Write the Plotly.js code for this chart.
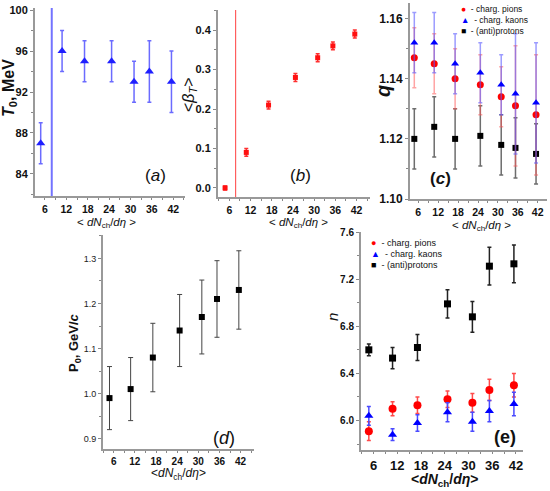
<!DOCTYPE html>
<html>
<head>
<meta charset="utf-8">
<script src="https://cdn.plot.ly/plotly-3.0.1.min.js"></script>
<style>html,body{margin:0;padding:0;background:#fff;}#chart{width:550px;height:491px;}</style>
</head>
<body>
<div id="chart"></div>
<script>
// ---- data ----
const multX = [4.8, 10.8, 17.1, 24.7, 31.0, 35.3, 41.5];
const xTicks = [6, 12, 18, 24, 30, 36, 42];

const T0 = [87, 96, 95, 95, 93, 94, 93];
const T0err = [2, 2, 2, 2, 2, 3, 3];
const T0sep = 7.9;

const betaT = [0.0, 0.09, 0.21, 0.28, 0.33, 0.36, 0.39];
const betaTerr = [0.005, 0.01, 0.01, 0.01, 0.01, 0.01, 0.01];
const betaSep = 7.8;

const qPions = [1.147, 1.145, 1.140, 1.138, 1.134, 1.131, 1.128];
const qPionsErr = [0.01, 0.01, 0.01, 0.01, 0.01, 0.02, 0.02];
const qKaons = [1.152, 1.152, 1.145, 1.142, 1.138, 1.135, 1.132];
const qKaonsErr = [0.01, 0.01, 0.01, 0.01, 0.01, 0.02, 0.02];
const qProtons = [1.120, 1.124, 1.120, 1.121, 1.118, 1.117, 1.115];
const qProtonsErr = [0.01, 0.01, 0.01, 0.01, 0.01, 0.01, 0.01];

const P0 = [0.99, 1.01, 1.08, 1.14, 1.17, 1.21, 1.23];
const P0err = [0.07, 0.07, 0.076, 0.08, 0.082, 0.085, 0.087];

const nPions = [5.91, 6.10, 6.13, 6.18, 6.15, 6.26, 6.30];
const nPionsErr = [0.08, 0.06, 0.07, 0.07, 0.08, 0.09, 0.10];
const nKaons = [6.04, 5.88, 5.98, 6.07, 5.99, 6.08, 6.14];
const nKaonsErr = [0.08, 0.05, 0.07, 0.08, 0.08, 0.09, 0.10];
const nProtons = [6.60, 6.53, 6.62, 6.99, 6.88, 7.31, 7.33];
const nProtonsErr = [0.05, 0.09, 0.11, 0.12, 0.13, 0.16, 0.16];

const legendNames = ['- charg. pions', '- charg. kaons', '- (anti)protons'];

// ---- helpers ----
const W = 550, H = 491;
const px = v => v / W;
const py = v => 1 - v / H;
const FONT = 'Liberation Sans Narrow, Arial Narrow, Liberation Sans, Arial, sans-serif';
const FONTW = 'Liberation Sans, Arial, sans-serif';

function xAxis(anchor, domain, range, tsize) {
  return {
    anchor: anchor, domain: domain, range: range,
    tickmode: 'array', tickvals: xTicks, ticktext: xTicks.map(String),
    ticks: 'outside', ticklen: 2, tickwidth: 1, tickcolor: '#888',
    minor: {dtick: 3, tick0: 0, ticks: 'outside', ticklen: 2, tickcolor: '#888'},
    showline: true, linecolor: '#999', linewidth: 2,
    showgrid: false, zeroline: false,
    tickfont: {family: FONT, size: tsize || 11, color: '#111', weight: 'bold'}
  };
}
function yAxis(anchor, domain, range, dtick, fmt, minorDt, tsize) {
  return {
    anchor: anchor, domain: domain, range: range,
    tickmode: 'linear', dtick: dtick, tick0: 0, tickformat: fmt,
    ticks: 'outside', ticklen: 3, tickwidth: 1, tickcolor: '#888',
    minor: {dtick: minorDt, ticks: 'outside', ticklen: 2, tickcolor: '#888'},
    showline: true, linecolor: '#999', linewidth: 2,
    showgrid: false, zeroline: false,
    tickfont: {family: FONT, size: tsize || 11, color: '#111', weight: 'bold'}
  };
}
function trace(xa, ya, y, err, sym, size, color, ecolor, ethick, ewidth) {
  return {
    type: 'scatter', mode: 'markers', x: multX, y: y, xaxis: xa, yaxis: ya,
    marker: {symbol: sym, size: size, color: color},
    error_y: {type: 'data', array: err, visible: true, color: ecolor, thickness: ethick, width: ewidth},
    showlegend: false, hoverinfo: 'x+y'
  };
}

const data = [
  trace('x', 'y', T0, T0err, 'triangle-up', 8, '#1f1fff', '#6b6bff', 1.5, 2),
  trace('x2', 'y2', betaT, betaTerr, 'square', 5, '#ff1010', '#ff3030', 1.5, 2),
  trace('x3', 'y3', qProtons, qProtonsErr, 'square', 6, '#000', 'rgba(60,60,60,0.75)', 1.5, 2),
  trace('x3', 'y3', qPions, qPionsErr, 'circle', 7, '#ff0000', 'rgba(255,90,90,0.55)', 1.5, 2),
  trace('x3', 'y3', qKaons, qKaonsErr, 'triangle-up', 7, '#0000ff', 'rgba(90,90,255,0.6)', 1.5, 2),
  trace('x4', 'y4', P0, P0err, 'square', 6, '#000', '#444', 1, 2.5),
  trace('x5', 'y5', nProtons, nProtonsErr, 'square', 7, '#000', '#222', 1.5, 2),
  trace('x5', 'y5', nPions, nPionsErr, 'circle', 8, '#ff0000', '#ff4a4a', 1.5, 2),
  trace('x5', 'y5', nKaons, nKaonsErr, 'triangle-up', 8, '#0000ff', '#4a4aff', 1.5, 2)
];

function ann(x, y, text, size, opts) {
  return Object.assign({
    xref: 'paper', yref: 'paper', x: px(x), y: py(y), text: text, showarrow: false,
    xanchor: 'center', yanchor: 'middle',
    font: {family: FONTW, size: size, color: '#111'}
  }, opts || {});
}
const xTitle = '&lt; <i>dN</i><sub>ch</sub>/<i>dη</i> &gt;';
const legendColors = ['#ff0000', '#0000ff', '#000000'];
const legendSyms = ['●', '▲', '■'];
function legendAnns(x, ys, size) {
  return legendNames.map((nm, i) => ann(x, ys[i],
    '<span style="color:' + legendColors[i] + '">' + legendSyms[i] + '</span>  ' + nm, size,
    {xanchor: 'left'}));
}

const annotations = [
  ann(10, 88, '<b><i>T</i><sub>0</sub>, MeV</b>', 16, {textangle: -90}),
  ann(190, 95, '&lt;<i>β</i><sub><i>T</i></sub>&gt;', 16, {textangle: -90}),
  ann(383, 91, '<b><i>q</i></b>', 20, {textangle: -90}),
  ann(74, 343, '<b>P<sub>0</sub>, GeV/<i>c</i></b>', 13, {textangle: -90}),
  ann(332, 317, '<i>n</i>', 15, {textangle: -90}),
  ann(106, 223, xTitle, 11.5),
  ann(298, 223, xTitle, 11.5),
  ann(481, 226, xTitle, 11.5),
  ann(178, 474, '&lt;<i>dN</i><sub>ch</sub>/<i>dη</i>&gt;', 12),
  ann(444, 480, '<b>&lt;<i>dN</i><sub>ch</sub>/<i>dη</i>&gt;</b>', 14),
  ann(155, 175, '(<i>a</i>)', 17),
  ann(300, 175, '(<i>b</i>)', 17),
  ann(440, 178, '<b>(<i>c</i>)</b>', 17),
  ann(224, 438, '(<i>d</i>)', 18),
  ann(505, 437, '<b>(e)</b>', 18)
].concat(legendAnns(459, [9, 20.5, 31.5], 8.5), legendAnns(369, [243, 254, 265], 9));

const layout = {
  width: W, height: H,
  margin: {l: 0, r: 0, t: 0, b: 0},
  paper_bgcolor: '#fff', plot_bgcolor: 'rgba(0,0,0,0)',
  showlegend: false,
  xaxis: xAxis('y', [px(35), px(185)], [3.2, 45.3], 10.5),
  yaxis: yAxis('x', [py(196), py(8)], [81.85, 100.2], 4, 'd', 2),
  xaxis2: xAxis('y2', [px(218), px(370)], [2.8, 45.8], 10.5),
  yaxis2: yAxis('x2', [py(197), py(10)], [-0.023, 0.451], 0.1, '.1f', 0.05),
  xaxis3: xAxis('y3', [px(410), px(547)], [3.5, 44.8], 10.5),
  yaxis3: yAxis('x3', [py(199), py(3)], [1.10, 1.1652], 0.02, '.2f', 0.01, 12),
  xaxis4: xAxis('y4', [px(103), px(254)], [2.96, 45.8], 10),
  yaxis4: Object.assign(yAxis('x4', [py(449), py(235)], [0.877, 1.352], 0.1, '.1f', 0.05, 9),
    {tickfont: {family: FONTW, size: 9, color: '#222'}}),
  xaxis5: xAxis('y5', [px(361), px(523)], [2.82, 43.8], 13),
  yaxis5: yAxis('x5', [py(450), py(232)], [5.75, 7.6], 0.4, '.1f', 0.2, 10),
  shapes: [
    {type: 'line', xref: 'x', yref: 'y domain', x0: T0sep, x1: T0sep, y0: 0, y1: 1,
     line: {color: 'rgba(90,90,255,0.85)', width: 2}},
    {type: 'line', xref: 'x2', yref: 'y2 domain', x0: betaSep, x1: betaSep, y0: 0, y1: 1,
     line: {color: '#ff4040', width: 1}}
  ],
  annotations: annotations
};

Plotly.newPlot('chart', data, layout, {displayModeBar: false, staticPlot: true});
</script>
</body>
</html>
